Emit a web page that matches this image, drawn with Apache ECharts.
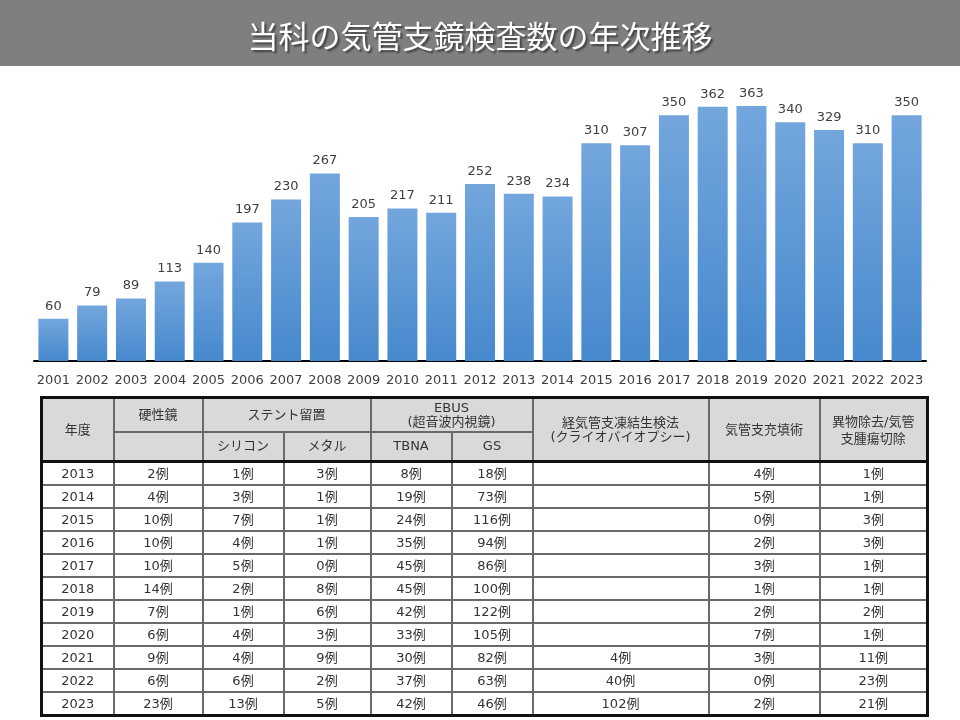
<!DOCTYPE html>
<html><head><meta charset="utf-8">
<script src="https://cdn.jsdelivr.net/npm/echarts@6/dist/echarts.min.js"></script>
<style>
html,body{margin:0;padding:0;background:#fff;}
#wrap{position:relative;width:960px;height:720px;overflow:hidden;}
#chart{position:absolute;left:0;top:0;width:960px;height:720px;}
#tbl{position:absolute;left:40px;top:396px;width:886px;border-collapse:collapse;table-layout:fixed;
 font-family:"DejaVu Sans","Noto Sans CJK JP",sans-serif;font-size:13px;color:#333;border:3px solid #111;}
#tbl td{border:2px solid #6a6a6a;text-align:center;padding:0;line-height:14px;white-space:nowrap;overflow:hidden;}
#tbl thead td{background:#d9d9d9;}
#tbl thead tr.r2 td{border-bottom:3px solid #111;}
#tbl thead td.tall{border-bottom:3px solid #111;}
#tbl tbody td{height:21px;}
</style></head>
<body><div id="wrap"><div id="chart"></div><table id="tbl"></table></div>
<script>
const titleText = "当科の気管支鏡検査数の年次推移";
const years = ["2001","2002","2003","2004","2005","2006","2007","2008","2009","2010","2011","2012","2013","2014","2015","2016","2017","2018","2019","2020","2021","2022","2023"];
const counts = [60,79,89,113,140,197,230,267,205,217,211,252,238,234,310,307,350,362,363,340,329,310,350];

const tableYears = ["2013","2014","2015","2016","2017","2018","2019","2020","2021","2022","2023"];
const rigid    = ["2例","4例","10例","10例","10例","14例","7例","6例","9例","6例","23例"];
const silicone = ["1例","3例","7例","4例","5例","2例","1例","4例","4例","6例","13例"];
const metal    = ["3例","1例","1例","1例","0例","8例","6例","3例","9例","2例","5例"];
const tbna     = ["8例","19例","24例","35例","45例","45例","42例","33例","30例","37例","42例"];
const gs       = ["18例","73例","116例","94例","86例","100例","122例","105例","82例","63例","46例"];
const cryo     = ["","","","","","","","","4例","40例","102例"];
const filling  = ["4例","5例","0例","2例","3例","1例","2例","7例","3例","0例","2例"];
const foreign  = ["1例","1例","3例","3例","1例","1例","2例","1例","11例","23例","21例"];

const colWidths = [72,89,81,87,81,81,176,111,108];

// build table
const tbl = document.getElementById('tbl');
let html = '<colgroup>' + colWidths.map(w=>'<col style="width:'+w+'px">').join('') + '</colgroup>';
html += '<thead><tr style="height:34px">' +
  '<td rowspan="2" class="tall">年度</td>' +
  '<td>硬性鏡</td>' +
  '<td colspan="2">ステント留置</td>' +
  '<td colspan="2">EBUS<br>(超音波内視鏡)</td>' +
  '<td rowspan="2" class="tall">経気管支凍結生検法<br>(クライオバイオプシー)</td>' +
  '<td rowspan="2" class="tall">気管支充填術</td>' +
  '<td rowspan="2" class="tall" style="line-height:17px">異物除去/気管<br>支腫瘍切除</td>' +
  '</tr><tr class="r2" style="height:30px"><td></td><td>シリコン</td><td>メタル</td><td>TBNA</td><td>GS</td></tr></thead><tbody>';
for (let i=0;i<tableYears.length;i++){
  html += '<tr><td>'+tableYears[i]+'</td><td>'+rigid[i]+'</td><td>'+silicone[i]+'</td><td>'+metal[i]+'</td><td>'+tbna[i]+'</td><td>'+gs[i]+'</td><td>'+cryo[i]+'</td><td>'+filling[i]+'</td><td>'+foreign[i]+'</td></tr>';
}
html += '</tbody>';
tbl.innerHTML = html;

const chart = echarts.init(document.getElementById('chart'), null, {renderer:'canvas'});
chart.setOption({
  backgroundColor:'#ffffff',
  animation:false,
  graphic:[{type:'rect',left:0,top:0,shape:{width:960,height:66},style:{fill:'#7f7f7f'},z:0}],
  title:{
    text:titleText, left:'center', top:16,
    textStyle:{color:'#ffffff',fontSize:31,fontWeight:'normal',fontFamily:'"Noto Sans CJK JP",sans-serif',
      textShadowColor:'rgba(0,0,0,0.5)',textShadowBlur:2,textShadowOffsetX:2,textShadowOffsetY:2}
  },
  grid:{left:34,right:34,top:80,bottom:359,containLabel:false},
  xAxis:{
    type:'category', data:years,
    axisLine:{show:true,lineStyle:{color:'#000',width:2}},
    axisTick:{show:false},
    axisLabel:{color:'#404040',fontSize:13,fontFamily:'"DejaVu Sans",sans-serif',margin:13,interval:0}
  },
  yAxis:{type:'value',min:0,max:400,show:false,splitLine:{show:false}},
  series:[{
    type:'bar', data:counts, barWidth:30,
    itemStyle:{color:new echarts.graphic.LinearGradient(0,0,0,1,[{offset:0,color:'#73a6dd'},{offset:1,color:'#4689cd'}])},
    label:{show:true,position:'top',distance:6,color:'#404040',fontSize:13,fontFamily:'"DejaVu Sans",sans-serif'}
  }]
});
</script></body></html>
